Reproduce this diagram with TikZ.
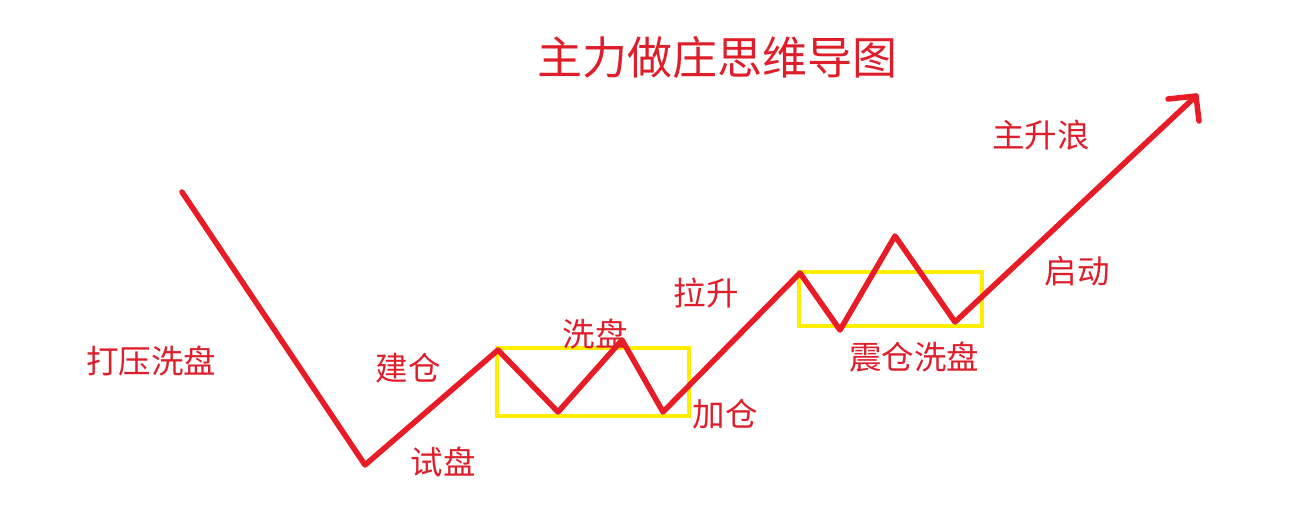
\documentclass[tikz,border=0pt]{standalone}
\usepackage{fontspec}
\newfontfamily\cjk{Noto Sans CJK SC}
\definecolor{linered}{RGB}{232,28,38}
\definecolor{textred}{RGB}{222,30,42}
\definecolor{boxyellow}{RGB}{255,238,0}
\begin{document}
\begin{tikzpicture}[x=1pt,y=-1pt,
  trend/.style={draw=linered,line width=5.5pt,line cap=round,line join=round},
  wash/.style={draw=boxyellow,line width=3.2pt},
  lbl/.style={text=textred,font=\cjk\fontsize{32.5}{32.5}\selectfont,inner sep=0pt},
  ttl/.style={text=textred,font=\cjk\fontsize{45}{45}\selectfont,inner sep=0pt}]
\useasboundingbox[fill=white] (0,0) rectangle (1290,527);
% trend coordinates
\coordinate (p0) at (182,192);
\coordinate (p1) at (365,465);
\coordinate (p2) at (498,350);
\coordinate (p3) at (558,412);
\coordinate (p4) at (622,340);
\coordinate (p5) at (663,412);
\coordinate (p6) at (800,273);
\coordinate (p7) at (840,330);
\coordinate (p8) at (895,236);
\coordinate (p9) at (955,322);
\coordinate (tip) at (1196,96);
\coordinate (armA) at (1168,99);
\coordinate (armB) at (1199,121);
% boxes
\draw[wash] (497,348) rectangle (689,416);
\draw[wash] (799,272) rectangle (982,326);
% trend line
\draw[trend] (p0) -- (p1) -- (p2) -- (p3) -- (p4) -- (p5) -- (p6) -- (p7) -- (p8) -- (p9) -- (tip);
\draw[trend] (armA) -- (tip) -- (armB);
% labels
\node[ttl] (title) at (717,57) {主力做庄思维导图};
\node[lbl] (l1) at (151,361) {打压洗盘};
\node[lbl] (l2) at (408,368) {建仓};
\node[lbl] (l3) at (443,462) {试盘};
\node[lbl] (l4) at (595,334) {洗盘};
\node[lbl] (l5) at (706,293) {拉升};
\node[lbl] (l6) at (725,414) {加仓};
\node[lbl] (l7) at (914,357) {震仓洗盘};
\node[lbl] (l8) at (1077,271) {启动};
\node[lbl] (l9) at (1041,135) {主升浪};
\end{tikzpicture}
\end{document}
